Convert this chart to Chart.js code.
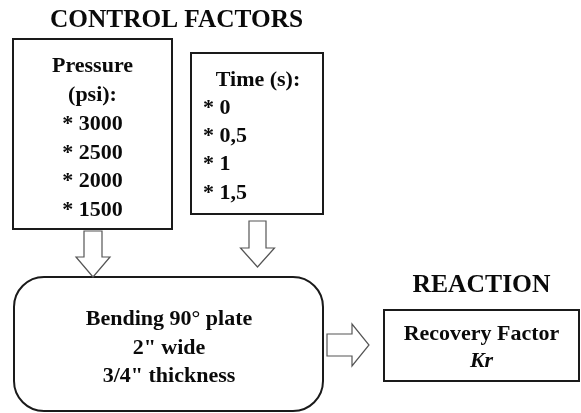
<!DOCTYPE html>
<html>
<head>
<meta charset="utf-8">
<script src="https://cdn.jsdelivr.net/npm/chart.js@4"></script>
<style>
  html, body { margin: 0; padding: 0; background: #fff; }
  #wrap { width: 581px; height: 413px; }
</style>
</head>
<body>
<div id="wrap"><canvas id="diagram"></canvas></div>
<script>
// diagram content
const titleControl = 'CONTROL FACTORS';
const titleReaction = 'REACTION';
const pressureHeader = ['Pressure', '(psi):'];
const pressureValues = ['3000', '2500', '2000', '1500'];
const timeHeader = 'Time (s):';
const timeValues = ['0', '0,5', '1', '1,5'];
const processLines = ['Bending 90° plate', '2" wide', '3/4" thickness'];
const reactionLines = ['Recovery Factor', 'Kr'];

// layout, in canvas units (x: 0..581, y: 0..413 from top)
const boxes = {
	pressure: { x0: 13, y0: 39, x1: 172, y1: 229 },
	time: { x0: 191, y0: 53, x1: 323, y1: 214 },
	process: { x0: 14, y0: 277, x1: 323, y1: 411, r: 30 },
	reaction: { x0: 384, y0: 310, x1: 579, y1: 381 }
};
const arrows = [
	{ dir: 'down', cx: 93, y0: 231, y1: 277, shaft: 18, head: 34, headLen: 20 },
	{ dir: 'down', cx: 257.5, y0: 221, y1: 267, shaft: 17, head: 34, headLen: 19 },
	{ dir: 'right', cy: 345, x0: 327, x1: 369, shaft: 22, head: 42, headLen: 17 }
];

const serif = '"Liberation Serif", "Times New Roman", serif';

const diagramPlugin = {
	id: 'diagram',
	afterDraw(chart) {
		const { ctx } = chart;
		const sx = v => chart.scales.x.getPixelForValue(v);
		const sy = v => chart.scales.y.getPixelForValue(v);

		ctx.save();
		ctx.fillStyle = '#fff';
		ctx.fillRect(0, 0, chart.width, chart.height);

		// boxes
		ctx.strokeStyle = '#1a1a1a';
		ctx.lineWidth = 2;
		['pressure', 'time', 'reaction'].forEach(k => {
			const b = boxes[k];
			ctx.strokeRect(sx(b.x0), sy(b.y0), sx(b.x1) - sx(b.x0), sy(b.y1) - sy(b.y0));
		});
		const p = boxes.process;
		ctx.beginPath();
		ctx.roundRect(sx(p.x0), sy(p.y0), sx(p.x1) - sx(p.x0), sy(p.y1) - sy(p.y0), p.r);
		ctx.stroke();

		// hollow arrows
		ctx.strokeStyle = '#555';
		ctx.lineWidth = 1.2;
		ctx.lineJoin = 'miter';
		arrows.forEach(a => {
			ctx.beginPath();
			if (a.dir === 'down') {
				const cx = sx(a.cx), y0 = sy(a.y0), y1 = sy(a.y1), hy = y1 - a.headLen;
				ctx.moveTo(cx - a.shaft / 2, y0);
				ctx.lineTo(cx + a.shaft / 2, y0);
				ctx.lineTo(cx + a.shaft / 2, hy);
				ctx.lineTo(cx + a.head / 2, hy);
				ctx.lineTo(cx, y1);
				ctx.lineTo(cx - a.head / 2, hy);
				ctx.lineTo(cx - a.shaft / 2, hy);
			} else {
				const cy = sy(a.cy), x0 = sx(a.x0), x1 = sx(a.x1), hx = x1 - a.headLen;
				ctx.moveTo(x0, cy - a.shaft / 2);
				ctx.lineTo(hx, cy - a.shaft / 2);
				ctx.lineTo(hx, cy - a.head / 2);
				ctx.lineTo(x1, cy);
				ctx.lineTo(hx, cy + a.head / 2);
				ctx.lineTo(hx, cy + a.shaft / 2);
				ctx.lineTo(x0, cy + a.shaft / 2);
			}
			ctx.closePath();
			ctx.stroke();
		});

		// text
		ctx.fillStyle = '#0a0a0a';
		ctx.textBaseline = 'alphabetic';
		ctx.textAlign = 'center';
		ctx.font = 'bold 26px ' + serif;
		ctx.fillText(titleControl, sx(176.5), sy(27), 253);
		ctx.fillText(titleReaction, sx(481.5), sy(292), 138);

		ctx.font = 'bold 22px ' + serif;
		const pcx = (boxes.pressure.x0 + boxes.pressure.x1) / 2;
		pressureHeader.forEach((t, i) => ctx.fillText(t, sx(pcx), sy(72 + i * 29)));
		pressureValues.forEach((t, i) => ctx.fillText('* ' + t, sx(pcx), sy(130 + i * 28.5)));

		const tcx = (boxes.time.x0 + boxes.time.x1) / 2;
		ctx.fillText(timeHeader, sx(tcx + 1), sy(86));
		ctx.textAlign = 'left';
		timeValues.forEach((t, i) => ctx.fillText('* ' + t, sx(203), sy(114 + i * 28.2)));

		ctx.textAlign = 'center';
		processLines.forEach((t, i) => ctx.fillText(t, sx(169), sy(325 + i * 28.5)));

		const rcx = (boxes.reaction.x0 + boxes.reaction.x1) / 2;
		ctx.fillText(reactionLines[0], sx(rcx), sy(340));
		ctx.font = 'italic bold 22px ' + serif;
		ctx.fillText(reactionLines[1], sx(rcx), sy(367));
		ctx.restore();
	}
};

new Chart(document.getElementById('diagram'), {
	type: 'scatter',
	data: { datasets: [{ data: [] }] },
	options: {
		responsive: true,
		maintainAspectRatio: false,
		animation: false,
		layout: { padding: 0 },
		scales: {
			x: { type: 'linear', min: 0, max: 581, display: false },
			y: { type: 'linear', min: 0, max: 413, reverse: true, display: false }
		},
		plugins: {
			legend: { display: false },
			tooltip: { enabled: false }
		}
	},
	plugins: [diagramPlugin]
});
</script>
</body>
</html>
